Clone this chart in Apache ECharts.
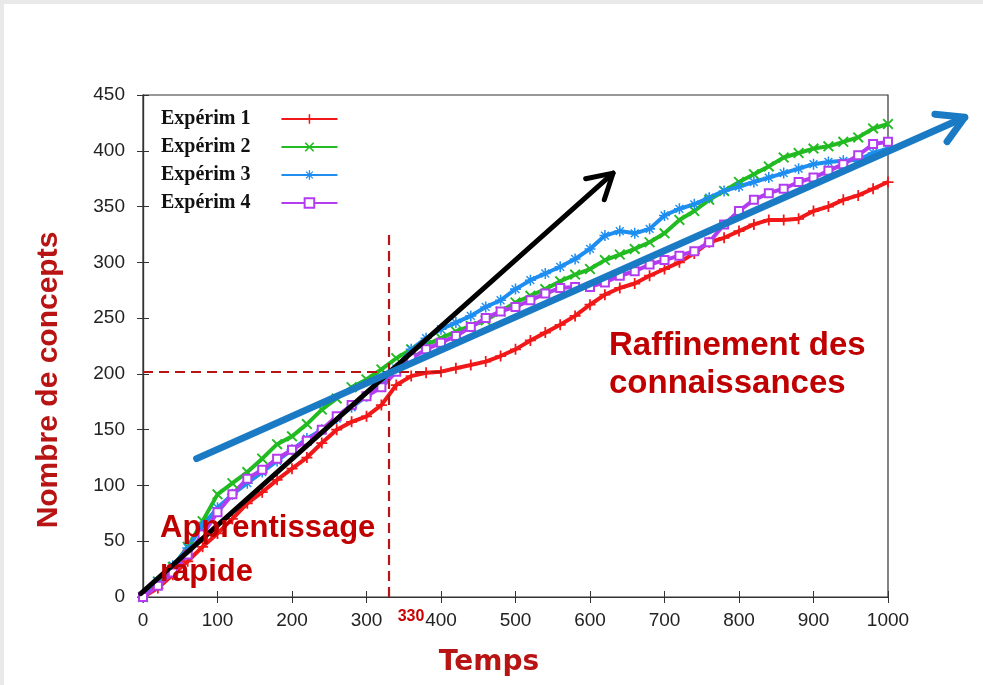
<!DOCTYPE html>
<html>
<head>
<meta charset="utf-8">
<script src="https://cdn.jsdelivr.net/npm/echarts@6/dist/echarts.min.js"></script>
<style>
  html, body { margin: 0; padding: 0; background: #e9e9e9; }
  #chart { position: absolute; left: 4px; top: 4px; width: 979px; height: 681px; background: #fff; }
</style>
</head>
<body>
<div id="chart"></div>
<script>
// temps (x) et nombre de concepts par expérience
const temps = [0, 20, 40, 60, 80, 100, 120, 140, 160, 180, 200, 220, 240, 260, 280, 300, 320, 340, 360, 380,
  400, 420, 440, 460, 480, 500, 520, 540, 560, 580, 600, 620, 640, 660, 680, 700, 720, 740, 760, 780,
  800, 820, 840, 860, 880, 900, 920, 940, 960, 980, 1000];
const experim1 = [0, 8, 20, 32, 45, 57, 70, 84, 94, 105, 115, 125, 138, 150, 157, 162, 172, 190, 198, 201,
  202, 205, 208, 211, 216, 222, 230, 237, 244, 252, 262, 271, 277, 281, 288, 294, 300, 308, 318, 322,
  328, 334, 338, 338, 339, 346, 350, 356, 360, 366, 372];
const experim2 = [0, 14, 27, 45, 68, 92, 102, 112, 124, 137, 144, 155, 168, 178, 188, 195, 204, 214, 222, 226,
  232, 238, 243, 248, 256, 264, 270, 276, 283, 289, 294, 302, 307, 312, 318, 326, 338, 346, 356, 364,
  372, 379, 386, 394, 398, 402, 404, 408, 412, 420, 424];
const experim3 = [0, 14, 28, 44, 64, 80, 92, 102, 112, 122, 132, 142, 150, 160, 170, 180, 192, 205, 222, 232,
  240, 246, 252, 260, 266, 276, 284, 290, 296, 303, 312, 324, 328, 326, 330, 342, 348, 352, 358, 364,
  368, 372, 376, 380, 384, 388, 390, 391, 392, 398, 402];
const experim4 = [0, 10, 22, 38, 56, 76, 92, 106, 114, 124, 132, 140, 150, 162, 172, 180, 188, 202, 214, 222,
  228, 234, 242, 250, 256, 260, 266, 272, 277, 278, 278, 282, 288, 292, 298, 302, 306, 310, 318, 334,
  346, 356, 362, 366, 372, 376, 382, 388, 396, 406, 408];

const names = ['Expérim 1', 'Expérim 2', 'Expérim 3', 'Expérim 4'];
const xTicks = [0, 1000, 100];
const yTicks = [0, 450, 50];

// repères annotés (x1, y1, x2, y2)
const flecheNoire = [-3, 3, 631, 380];
const flecheBleue = [72, 124, 1103, 430];
const seuilTemps = 330;
const seuilConcepts = 202;

const plusPath = 'path://M4.2,0H5.8V4.2H10V5.8H5.8V10H4.2V5.8H0V4.2H4.2Z';
const crossPath = 'path://M0.5,1.6L1.6,0.5L9.5,8.4L8.4,9.5Z M8.4,0.5L9.5,1.6L1.6,9.5L0.5,8.4Z';
const starPath = 'path://M4.3,0H5.7V4.3H10V5.7H5.7V10H4.3V5.7H0V4.3H4.3Z M1,1.9L1.9,1L9,8.1L8.1,9Z M8.1,1L9,1.9L1.9,9L1,8.1Z';

function pairs(ys) {
  return temps.map((t, i) => [t, ys[i]]);
}

function courbe(name, ys, color, symbol, size) {
  return {
    name: name,
    type: 'line',
    data: pairs(ys),
    symbol: symbol,
    symbolSize: size,
    showAllSymbol: true,
    lineStyle: { color: color, width: 4 },
    itemStyle: { color: color, borderColor: color, borderWidth: symbol === 'emptyRect' ? 1.8 : 0 },
    emphasis: { disabled: true },
    z: 3
  };
}

function fleche(data, color, width, head) {
  return {
    type: 'custom',
    clip: false,
    silent: true,
    z: 10,
    data: [data],
    renderItem: function (params, api) {
      const a = api.coord([api.value(0), api.value(1)]);
      const b = api.coord([api.value(2), api.value(3)]);
      const ang = Math.atan2(a[1] - b[1], a[0] - b[0]);
      const d = Math.PI / 6;
      const p1 = [b[0] + head * Math.cos(ang + d), b[1] + head * Math.sin(ang + d)];
      const p2 = [b[0] + head * Math.cos(ang - d), b[1] + head * Math.sin(ang - d)];
      const st = { stroke: color, lineWidth: width, fill: null, lineCap: 'round', lineJoin: 'round' };
      return {
        type: 'group',
        children: [
          { type: 'line', shape: { x1: a[0], y1: a[1], x2: b[0], y2: b[1] }, style: st },
          { type: 'polyline', shape: { points: [p1, b, p2] }, style: st }
        ]
      };
    }
  };
}

const rouge = '#b81414';
const tickFont = { fontFamily: "'Liberation Sans', Arial, sans-serif", fontSize: 19, color: '#222' };

const chart = echarts.init(document.getElementById('chart'));
const option = {
  animation: false,
  backgroundColor: '#fff',
  grid: { left: 139, top: 91, right: 95, bottom: 88, show: true, borderColor: '#333', borderWidth: 1.2 },
  legend: {
    orient: 'vertical',
    left: 152,
    top: 99,
    align: 'right',
    itemWidth: 56,
    itemHeight: 12,
    itemGap: 6,
    data: names,
    lineStyle: { width: 2 },
    textStyle: {
      fontFamily: "'Liberation Serif', 'Times New Roman', serif",
      fontWeight: 'bold', fontSize: 20, color: '#111', lineHeight: 22,
      padding: [0, 26, 0, 0]
    }
  },
  xAxis: [{
    type: 'value', min: xTicks[0], max: xTicks[1], interval: xTicks[2],
    axisLine: { lineStyle: { color: '#333', width: 1.2 } },
    axisTick: { inside: true, length: 6, lineStyle: { color: '#333' } },
    axisLabel: Object.assign({ margin: 14, formatter: v => String(v) }, tickFont),
    splitLine: { show: false }
  }, {
    type: 'value', position: 'top', min: xTicks[0], max: xTicks[1], interval: xTicks[2],
    axisLine: { lineStyle: { color: '#333', width: 1.2 } },
    axisTick: { inside: true, length: 6, lineStyle: { color: '#333' } },
    axisLabel: { show: false }, splitLine: { show: false }
  }],
  yAxis: [{
    type: 'value', min: yTicks[0], max: yTicks[1], interval: yTicks[2],
    axisLine: { show: true, lineStyle: { color: '#333', width: 1.2 } },
    axisTick: { show: true, inside: true, length: 6, lineStyle: { color: '#333' } },
    axisLabel: Object.assign({ margin: 18 }, tickFont),
    splitLine: { show: false }
  }, {
    type: 'value', position: 'right', min: yTicks[0], max: yTicks[1], interval: yTicks[2],
    axisLine: { show: true, lineStyle: { color: '#333', width: 1.2 } },
    axisTick: { show: true, inside: true, length: 6, lineStyle: { color: '#333' } },
    axisLabel: { show: false }, splitLine: { show: false }
  }],
  series: [
    Object.assign(courbe(names[0], experim1, '#f01818', plusPath, 11), {
      markLine: {
        silent: true, symbol: 'none', label: { show: false },
        lineStyle: { color: rouge, type: [10, 6], width: 2.2 },
        data: [
          [{ coord: [0, seuilConcepts] }, { coord: [400, seuilConcepts] }],
          [{ coord: [seuilTemps, 0] }, { coord: [seuilTemps, 325] }]
        ]
      }
    }),
    courbe(names[1], experim2, '#22bb22', crossPath, 11),
    courbe(names[2], experim3, '#1e8ef0', starPath, 11),
    courbe(names[3], experim4, '#b43cf0', 'emptyRect', 8),
    fleche(flecheNoire, '#000', 5, 28),
    fleche(flecheBleue, '#1a7bc4', 7, 30)
  ],
  graphic: [
    { type: 'text', x: 45, y: 376, rotation: Math.PI / 2, z: 100,
      style: { text: 'Nombre de concepts', fill: rouge, font: "bold 30px 'Liberation Sans', Arial, sans-serif", align: 'center', verticalAlign: 'middle' } },
    { type: 'text', x: 485, y: 659, z: 100,
      style: { text: 'Temps', fill: rouge, font: "bold 28px 'DejaVu Sans', sans-serif", align: 'center', verticalAlign: 'middle' } },
    { type: 'text', x: 407, y: 613, z: 100,
      style: { text: '330', fill: '#cc0000', font: "bold 16px 'Liberation Sans', Arial, sans-serif", align: 'center', verticalAlign: 'middle' } },
    { type: 'text', x: 156, y: 524, z: 100,
      style: { text: 'Apprentissage', fill: '#c00000', font: "bold 31px 'Liberation Sans', Arial, sans-serif", align: 'left', verticalAlign: 'middle' } },
    { type: 'text', x: 156, y: 568, z: 100,
      style: { text: 'rapide', fill: '#c00000', font: "bold 31px 'Liberation Sans', Arial, sans-serif", align: 'left', verticalAlign: 'middle' } },
    { type: 'text', x: 605, y: 342, z: 100,
      style: { text: 'Raffinement des', fill: '#c00000', font: "bold 33px 'Liberation Sans', Arial, sans-serif", align: 'left', verticalAlign: 'middle' } },
    { type: 'text', x: 605, y: 380, z: 100,
      style: { text: 'connaissances', fill: '#c00000', font: "bold 33px 'Liberation Sans', Arial, sans-serif", align: 'left', verticalAlign: 'middle' } }
  ]
};
chart.setOption(option);
</script>
</body>
</html>
